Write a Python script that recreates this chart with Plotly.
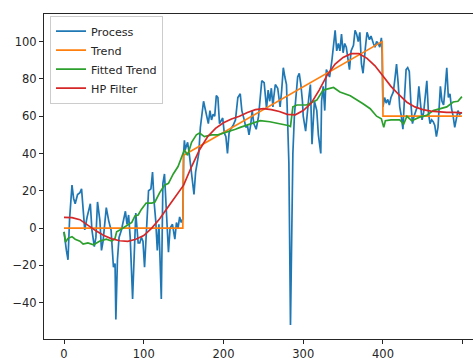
import plotly.graph_objects as go

# ---- data ----
process_x = [0, 2, 3, 5, 7, 10, 12, 14, 17, 20, 22, 24, 26, 29, 33, 35, 38, 40, 42, 45, 47, 49,
             53, 56, 59, 62, 64, 65, 67, 69, 72, 77, 79, 81, 83, 86, 88, 90, 93, 95, 97, 99,
             101, 104, 106, 109, 111, 113, 115, 117, 119, 122, 124, 126, 128, 131, 133, 136,
             139, 141, 143, 145, 147, 149,
             150, 151, 152, 155, 157, 159, 161, 163, 165, 167, 169, 171, 173, 175, 177, 179,
             181, 183, 185, 187, 189, 191, 193, 195, 197, 199, 201, 203, 205, 207, 209, 212,
             215, 218,
             221, 223, 226, 228, 230, 232, 234, 236, 238, 241, 244, 247, 248, 251, 253, 254,
             256, 258, 260, 262, 263, 265, 268, 270, 271, 273, 275, 277, 279, 280, 282, 284,
             287, 289, 291, 293, 295, 297, 299,
             300, 303, 305, 307, 309, 311, 314, 317, 319, 322, 323, 325, 327, 329, 331, 333,
             336, 340, 342, 344, 346, 348, 350, 352, 354, 356, 358, 360, 363, 365, 367, 369,
             371, 373, 375, 378, 380, 383, 385, 388, 390, 392, 394, 396, 398, 399,
             400, 402, 404, 406, 408, 410, 413, 415, 417, 419, 421, 423, 425, 427, 429, 431,
             433, 435, 437, 439, 441, 443, 445, 447, 449, 451, 453, 455, 457, 459, 461, 463,
             465, 467, 469, 471, 472, 474, 476, 478, 480, 482, 484, 486, 488, 490, 492, 494,
             496, 498, 499]
process_y = [-2, -11, -12, -17, 5, 23, 16, 13, 18, 19, 21, 10, -1, 6, 13, -1, -10, -5, 14, 4, -12, -7,
             11, 4, -1, -21, -19, -49, -17, -5, -1, 9, 2, 7, -5, -38, -10, 8, -8, -8, -5, -7,
             -21, 6, 20, 21, 30, 14, 4, -12, 2, -38, 24, 29, 11, -13, 0, 2,
             -6, 3, 0, 6, 3, 5,
             40, 47, 42, 46, 40, 33, 24, 18, 30, 35, 40, 54, 63, 68, 64, 60,
             56, 63, 58, 61, 60, 71, 70, 56, 58, 59, 51, 49, 40, 51, 53, 55,
             58, 70,
             72, 63, 58, 54, 55, 50, 55, 63, 56, 53, 60, 72, 79, 78, 70, 64,
             74, 68, 75, 65, 70, 77, 75, 68, 65, 74, 86, 81, 77, 63, 35, -52,
             40, 61, 70, 81, 83, 77, 68,
             60, 52, 62, 70, 77, 45, 68, 63, 50, 40, 68, 76, 63, 85, 83, 81,
             90, 106, 95, 99, 95, 104, 94, 99, 97, 90, 85, 95, 98, 106, 104, 100,
             105, 88, 83, 97, 105, 101, 103, 99, 97, 100, 99, 97, 102, 94,
             65, 70, 67, 69, 66, 70, 73, 80, 88, 78, 65, 60, 53, 70, 85, 86,
             84, 67, 56, 60, 63, 65, 76, 67, 58, 62, 70, 79, 62, 56, 58, 57,
             55, 49, 54, 68, 76, 68, 66, 75, 86, 70, 72, 64, 60, 54, 58, 63,
             61, 62, 62]

trend_x = [0, 149, 150, 399, 400, 499]
trend_y = [0, 0, 39, 100, 60, 60]

fitted_x = [0, 2, 5, 10, 14, 20, 24, 30, 37, 41, 45, 53, 60, 64, 66, 70, 74, 80, 85, 89, 93,
            97, 103, 110, 114, 120, 126, 131, 137, 143, 147, 151, 155, 160, 166, 170, 176,
            185, 193, 201, 208, 215, 221, 233, 246, 258, 271, 281, 284, 287, 292, 304, 317,
            325, 338, 346, 359, 367, 375, 384, 392, 398, 401, 403, 410, 421, 426, 430, 436,
            446, 455, 463, 472, 480, 488, 494, 499]
fitted_y = [-2, -7.5, -5.5, -4.6, -6, -7, -8.6, -8, -9, -8, -7, -6, -7, -5.5, -2, -1, 0, 1.5,
            3, 6.5, 7, 10, 13.4, 13.4, 14, 19, 23, 24, 29, 33, 37, 42, 39, 46, 50, 51, 49,
            50, 50, 51, 52, 53, 54, 55.8, 57.6, 57, 56, 55, 54.5, 65, 66, 66, 68.6,
            74, 75.4, 73, 71, 69, 66.7, 64, 60, 58.6, 54, 57.6, 58, 58, 55.8, 60, 57.6,
            59.5, 60.5, 63, 64, 65, 67.6, 68, 70.5]

hp_x = [0, 10, 20, 30, 40, 50, 60, 70, 80, 90, 100, 110, 120, 130, 140, 150, 160, 170, 180,
        190, 200, 210, 220, 230, 240, 250, 260, 270, 280, 290, 300, 310, 320, 330, 340, 350,
        360, 370, 380, 390, 400, 410, 420, 430, 440, 450, 460, 470, 480, 490, 499]
hp_y = [5.7, 5.6, 4.5, 1.5, -1.5, -4, -5.8, -6.8, -7.1, -6, -4, 0, 5, 11, 17, 23, 33, 42, 49,
        53.5, 56.5, 58.5, 60, 62, 63.5, 64, 63.5, 62.5, 61, 60.7, 63, 67, 74, 82, 88, 91.5,
        93.5, 93.5, 91, 87, 81.5, 76, 71.5, 67.5, 65, 63.5, 62.7, 62.2, 62, 62, 61.8]

x_ticks = [0, 100, 200, 300, 400, 500]
y_ticks = [-40, -20, 0, 20, 40, 60, 80, 100]

names = ["Process", "Trend", "Fitted Trend", "HP Filter"]
colors = ["#1f77b4", "#ff7f0e", "#2ca02c", "#d62728"]

fig = go.Figure()
for name, xs, ys, c in zip(names,
                           [process_x, trend_x, fitted_x, hp_x],
                           [process_y, trend_y, fitted_y, hp_y],
                           colors):
    fig.add_trace(go.Scatter(x=xs, y=ys, mode="lines", name=name,
                             line=dict(color=c, width=1.7)))

font = dict(family="DejaVu Sans", size=11.5, color="#262626")
fig.update_layout(
    width=473, height=358,
    margin=dict(l=44, r=0, t=14, b=19, autoexpand=False),
    paper_bgcolor="white", plot_bgcolor="white",
    font=font,
    showlegend=True,
    legend=dict(x=0.014, y=0.995, xanchor="left", yanchor="top",
                bgcolor="rgba(255,255,255,0.8)", bordercolor="#cccccc", borderwidth=1,
                font=dict(family="DejaVu Sans", size=11.2, color="#262626"),
                itemwidth=30, tracegroupgap=0),
)
fig.update_xaxes(range=[-25.1, 512.9], tickvals=x_ticks, ticks="outside", ticklen=4,
                 tickcolor="#262626", showline=True, linecolor="#262626", linewidth=1,
                 mirror=True, showgrid=False, zeroline=False, tickfont=font, automargin=False)
fig.update_yaxes(range=[-59.5, 114.8], tickvals=y_ticks, ticks="outside", ticklen=4,
                 tickcolor="#262626", showline=True, linecolor="#262626", linewidth=1,
                 mirror=False, showgrid=False, zeroline=False, tickfont=font, automargin=False)

fig.write_html("out.html", config={"displayModeBar": False},
               post_script="document.body.style.margin='0';document.body.style.overflow='hidden';")
